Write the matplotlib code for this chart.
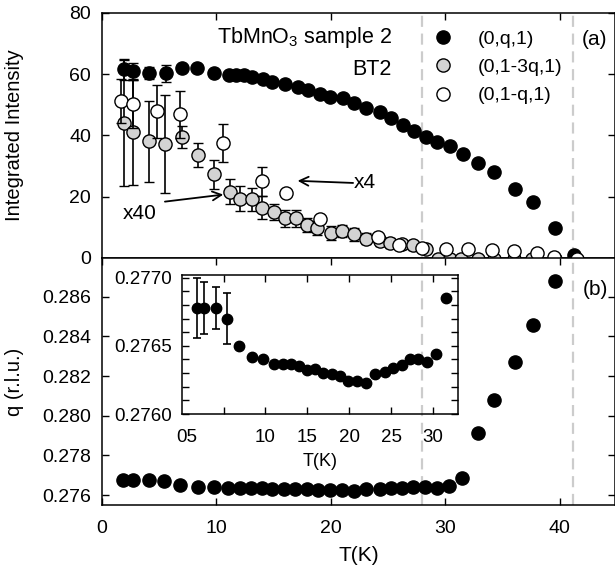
import matplotlib
matplotlib.use("Agg")
from matplotlib import pyplot as plt
from matplotlib.lines import Line2D
from matplotlib.ticker import MultipleLocator
import numpy as np

plt.rcParams['font.family'] = ['Liberation Sans', 'DejaVu Sans']
plt.rcParams['mathtext.fontset'] = 'custom'
plt.rcParams['mathtext.rm'] = 'Liberation Sans'
plt.rcParams['mathtext.it'] = 'Liberation Sans:italic'

# (0,q,1) integrated intensity
black_T = [1.9, 2.7, 4.1, 5.6, 7.0, 8.3, 9.8, 11.1, 11.7, 12.4, 13.1, 14.1, 14.9, 16.0, 17.1, 18.0, 19.1,
           19.9, 21.1, 22.0, 23.1, 24.3, 25.3, 26.3, 27.3, 28.3, 29.3, 30.4, 31.6, 32.9, 34.3, 36.1, 37.7,
           39.6, 41.3]
black_I = [61.6, 61.0, 60.5, 60.3, 62.1, 61.9, 60.5, 59.9, 59.6, 59.6, 59.2, 58.5, 57.4, 56.7, 55.9, 55.0,
           53.7, 52.6, 52.3, 50.7, 49.0, 47.6, 45.8, 43.3, 41.4, 39.6, 37.8, 36.5, 34.1, 31.1, 28.0, 22.6,
           18.2, 9.9, 1.1]
black_err = [3.4, 2.8, 2.0, 2.8] + [0] * 31

# (0,1-3q,1) x40
gray_T = [1.9, 2.7, 4.1, 5.5, 7.0, 8.4, 9.8, 11.2, 12.1, 13.1, 14.0, 15.0, 16.0, 17.0, 17.9, 18.8, 20.0,
          21.0, 22.0, 23.1, 24.3, 25.2, 26.2, 27.2, 28.3, 29.4, 30.4, 31.4, 32.9, 34.3, 36.0, 37.6, 39.6]
gray_I = [44.1, 41.1, 38.1, 37.1, 39.5, 33.6, 27.3, 21.6, 19.4, 19.1, 16.4, 15.0, 12.9, 12.9, 10.9, 9.9,
          8.2, 8.8, 7.7, 6.3, 5.6, 5.0, 4.5, 4.1, 2.8, -0.3, -0.4, -0.4, -0.3, -0.3, -0.3, -0.3, -0.4]
gray_err = [20.7, 17.4, 13.3, 16.0, 3.7, 3.9, 4.7, 4.1, 4.1, 3.8, 3.8, 2.6, 2.7, 2.7, 2.3, 2.3, 2.3,
            2.0, 2.0, 1.8, 1.7, 1.6, 1.5, 1.4, 1.3] + [0] * 8

# (0,1-q,1) x4
white_T = [1.7, 2.7, 4.8, 6.8, 10.55, 14.0, 16.1, 19.05, 24.1, 26.0, 28.0, 30.1, 32.0, 34.1, 36.0, 38.0,
           39.5, 41.5]
white_I = [51.2, 50.4, 47.9, 46.9, 37.6, 25.1, 21.1, 12.8, 6.9, 4.2, 3.3, 3.0, 2.8, 2.5, 2.2, 1.7, 0.4, -0.2]
white_err = [7.1, 7.8, 8.6, 7.6, 6.3, 4.7] + [0] * 12

# wave vector q
q_T = [1.8, 2.7, 4.1, 5.4, 6.8, 8.35, 9.75, 11.0, 12.05, 13.0, 14.0, 14.9, 15.9, 16.9, 17.9, 18.9, 19.9,
       20.95, 22.0, 23.1, 24.3, 25.25, 26.25, 27.2, 28.2, 29.3, 30.3, 31.5, 32.9, 34.3, 36.1, 37.7, 39.6]
q_val = [0.27678, 0.27678, 0.27678, 0.27670, 0.27650, 0.27642, 0.27640, 0.27637, 0.27637, 0.27637,
         0.27635, 0.27632, 0.27633, 0.27630, 0.27629, 0.27628, 0.27624, 0.27624, 0.27623, 0.27629,
         0.27631, 0.27634, 0.27636, 0.27640, 0.27640, 0.27638, 0.27644, 0.27685, 0.27911, 0.28079,
         0.28272, 0.28457, 0.28681]
q_err = [0.00022, 0.00019, 0.000155, 0.000186] + [0] * 29
n_inset = 28

T_lines = [28.0, 41.2]

fig = plt.figure(figsize=(6.15, 5.69), dpi=100)
ax_a = fig.add_axes([0.1659, 0.5466, 0.8341, 0.4306])
ax_b = fig.add_axes([0.1659, 0.1125, 0.8341, 0.4341])
ax_in = fig.add_axes([0.2954, 0.2724, 0.4498, 0.2443])
ax_in.set_facecolor('none')

ms = 9.5
ebkw = dict(fmt='o', ms=ms, mec='black', mew=1.0, ecolor='black', elinewidth=1.2, capsize=3.6,
            capthick=1.2, clip_on=False)
ax_a.errorbar(black_T, black_I, yerr=black_err, mfc='black', zorder=3, **ebkw)
ax_a.errorbar(gray_T, gray_I, yerr=gray_err, mfc='#d3d3d3', zorder=4, **ebkw)
ax_a.errorbar(white_T, white_I, yerr=white_err, mfc='white', zorder=5, **ebkw)

ax_b.plot(q_T, q_val, 'o', ms=ms, color='black', zorder=3)

ax_in.errorbar(q_T[:n_inset], q_val[:n_inset], yerr=q_err[:n_inset], fmt='o', ms=7.5, color='black',
               elinewidth=1.2, capsize=3.0, capthick=1.2)

for ax in (ax_a, ax_b):
    for t in T_lines:
        ax.axvline(t, color='#cccccc', lw=1.6, ls=(0, (5, 3)), zorder=1)
    ax.set_xlim(0, 44.85)
    ax.xaxis.set_major_locator(MultipleLocator(10))
    ax.tick_params(direction='in', length=5, width=1, labelsize=14, top=True, right=True)
    ax.tick_params(axis='x', pad=11)
    ax.tick_params(axis='y', pad=8)

ax_a.set_ylim(0, 80)
ax_a.yaxis.set_major_locator(MultipleLocator(20))
ax_a.tick_params(axis='x', bottom=False, labelbottom=False)
ax_a.set_ylabel('Integrated Intensity', fontsize=14.5)
ax_a.yaxis.set_label_coords(-0.152, 0.5)

ax_b.set_ylim(0.2755, 0.28795)
ax_b.set_yticks([0.276, 0.278, 0.280, 0.282, 0.284, 0.286])
ax_b.set_yticklabels(['0.276', '0.278', '0.280', '0.282', '0.284', '0.286'])
ax_b.set_ylabel('q (r.l.u.)', fontsize=14.5)
ax_b.yaxis.set_label_coords(-0.152, 0.5)
ax_b.set_xlabel('T(K)', fontsize=15, labelpad=6)

ax_in.set_xlim(0, 33)
ax_in.set_ylim(0.2760, 0.27702)
ax_in.set_xticks([5, 10, 15, 20, 25, 30], labels=['', '10', '15', '20', '25', '30'])
ax_in.set_xticks([0.55], labels=['05'], minor=True)
ax_in.set_yticks([0.2760, 0.2765, 0.2770], labels=['0.2760', '0.2765', '0.2770'])
ax_in.yaxis.set_minor_locator(MultipleLocator(0.0001))
ax_in.tick_params(which='both', direction='in', length=5, width=1, labelsize=13.5, top=True, right=True)
ax_in.tick_params(axis='x', which='both', pad=11)
ax_in.tick_params(axis='y', which='both', pad=7)
ax_in.tick_params(axis='x', which='minor', length=0)
ax_in.set_xlabel('T(K)', fontsize=13, labelpad=5)

for ax in (ax_a, ax_b, ax_in):
    for s in ax.spines.values():
        s.set_linewidth(1.1)

ax_a.text(25.35, 72.0, 'TbMnO$_3$ sample 2', fontsize=15.5, ha='right', va='center')
ax_a.text(25.35, 61.5, 'BT2', fontsize=15.5, ha='right', va='center')
ax_a.text(43.1, 71.3, '(a)', fontsize=15, ha='center', va='center')
ax_b.text(43.1, 0.28634, '(b)', fontsize=15, ha='center', va='center')

ax_a.annotate('', xy=(10.6, 20.7), xytext=(5.5, 18.4),
              arrowprops=dict(arrowstyle='->', lw=1.3, color='black', mutation_scale=16, shrinkA=0, shrinkB=0))
ax_a.text(1.8, 14.5, 'x40', fontsize=15, ha='left', va='center')
ax_a.annotate('', xy=(17.1, 25.2), xytext=(21.95, 24.5),
              arrowprops=dict(arrowstyle='->', lw=1.3, color='black', mutation_scale=16, shrinkA=0, shrinkB=0))
ax_a.text(22.0, 24.6, 'x4', fontsize=15, ha='left', va='center')

legend_fc = ['black', '#d3d3d3', 'white']
legend_labels = ['(0,q,1)', '(0,1-3q,1)', '(0,1-q,1)']
handles = [Line2D([], [], ls='none', marker='o', ms=ms, mfc=fc, mec='black', mew=1.0) for fc in legend_fc]
ax_a.legend(handles, legend_labels, loc='upper left', bbox_to_anchor=(0.645, 0.93), frameon=False,
            fontsize=14, handlelength=1.0, handletextpad=1.3, labelspacing=0.55, borderpad=0,
            borderaxespad=0)

fig.savefig('out.png', dpi=100)
